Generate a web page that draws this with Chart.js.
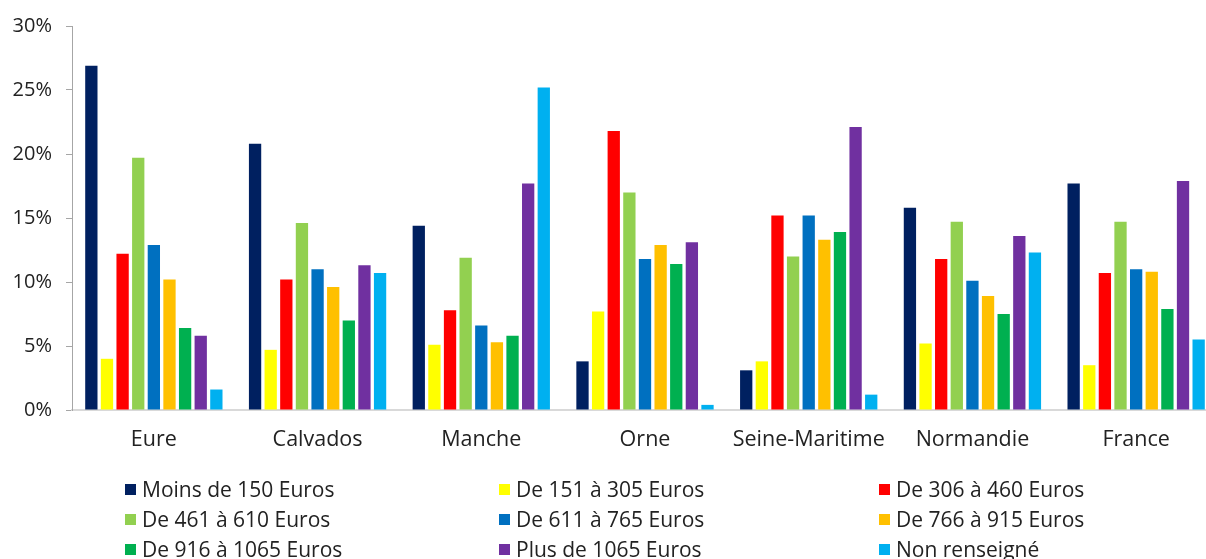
<!DOCTYPE html>
<html lang="fr">
<head>
<meta charset="utf-8">
<title>Répartition par tranche</title>
<script src="https://cdn.jsdelivr.net/npm/chart.js@4/dist/chart.umd.min.js"></script>
<style>
	html, body {
		margin: 0;
		padding: 0;
		background: #fff;
		overflow: hidden;
	}
	#wrap {
		position: relative;
		width: 1206px;
		height: 559px;
		overflow: hidden;
	}
	#chart-box {
		position: absolute;
		left: 0;
		top: 0;
		width: 1218px;
		height: 559px;
	}
	#legend {
		position: absolute;
		left: 0;
		top: 0;
		width: 1206px;
		height: 559px;
		font-family: "Open Sans", sans-serif;
		font-size: 21px;
		color: #222;
	}
	.lg-item {
		position: absolute;
		height: 30px;
		line-height: 30px;
		white-space: nowrap;
	}
	.lg-box {
		display: inline-block;
		width: 11px;
		height: 11px;
		margin-right: 6px;
		vertical-align: middle;
		position: relative;
		top: -2px;
	}
</style>
</head>
<body>
<div id="wrap">
	<div id="chart-box"><canvas id="chart" width="1218" height="559"></canvas></div>
	<div id="legend"></div>
</div>
<script>
	// Territoires
	const categories = ['Eure', 'Calvados', 'Manche', 'Orne', 'Seine-Maritime', 'Normandie', 'France'];

	// Tranches (ordre de la légende)
	const seriesNames = [
		'Moins de 150 Euros',
		'De 151 à 305 Euros',
		'De 306 à 460 Euros',
		'De 461 à 610 Euros',
		'De 611 à 765 Euros',
		'De 766 à 915 Euros',
		'De 916 à 1065 Euros',
		'Plus de 1065 Euros',
		'Non renseigné'
	];

	const seriesColors = ['#002060', '#FFFF00', '#FF0000', '#92D050', '#0070C0', '#FFC000', '#00B050', '#7030A0', '#00B0F0'];

	// Valeurs en %
	const moins150 = [26.9, 20.8, 14.4, 3.8, 3.1, 15.8, 17.7];
	const de151a305 = [4.0, 4.7, 5.1, 7.7, 3.8, 5.2, 3.5];
	const de306a460 = [12.2, 10.2, 7.8, 21.8, 15.2, 11.8, 10.7];
	const de461a610 = [19.7, 14.6, 11.9, 17.0, 12.0, 14.7, 14.7];
	const de611a765 = [12.9, 11.0, 6.6, 11.8, 15.2, 10.1, 11.0];
	const de766a915 = [10.2, 9.6, 5.3, 12.9, 13.3, 8.9, 10.8];
	const de916a1065 = [6.4, 7.0, 5.8, 11.4, 13.9, 7.5, 7.9];
	const plus1065 = [5.8, 11.3, 17.7, 13.1, 22.1, 13.6, 17.9];
	const nonRenseigne = [1.6, 10.7, 25.2, 0.4, 1.2, 12.3, 5.5];

	const seriesValues = [moins150, de151a305, de306a460, de461a610, de611a765, de766a915, de916a1065, plus1065, nonRenseigne];

	// Graduations de l'axe Y
	const yTicks = [0, 5, 10, 15, 20, 25, 30];

	const yFont = { family: '"Open Sans", sans-serif', size: 20 };
	const xFont = { family: '"Open Sans", sans-serif', size: 21.5 };
	const textColor = '#222';

	const datasets = seriesNames.map((name, i) => ({
		label: name,
		data: seriesValues[i],
		backgroundColor: seriesColors[i],
		borderWidth: 0,
		categoryPercentage: 0.859,
		barPercentage: 0.787
	}));

	const chart = new Chart(document.getElementById('chart').getContext('2d'), {
		type: 'bar',
		data: { labels: categories, datasets },
		options: {
			responsive: false,
			animation: false,
			layout: {
				padding: { top: 26, right: 0, bottom: 109, left: 0 }
			},
			plugins: {
				legend: { display: false },
				title: { display: false },
				tooltip: { enabled: false }
			},
			scales: {
				x: {
					grid: { display: false, drawTicks: false },
					border: { display: true, color: '#d9d9d9', width: 2 },
					ticks: {
						color: textColor,
						font: xFont,
						padding: 17,
						maxRotation: 0,
						autoSkip: false
					},
					afterFit(scale) {
						scale.height = 40;
					}
				},
				y: {
					min: 0,
					max: 30,
					afterBuildTicks(scale) {
						scale.ticks = yTicks.map((v) => ({ value: v }));
					},
					grid: {
						display: true,
						drawOnChartArea: false,
						drawTicks: true,
						tickLength: 6,
						color: '#a6a6a6'
					},
					border: { display: true, color: '#a6a6a6', width: 1 },
					ticks: {
						color: textColor,
						font: yFont,
						padding: 14,
						callback: (v) => v + '%'
					},
					afterFit(scale) {
						scale.width = 72;
					}
				}
			}
		}
	});

	// Légende sur trois colonnes
	const legendCols = [125, 499, 879];
	const legendRowTop = 474;
	const legendRowStep = 30;
	const legendEl = document.getElementById('legend');
	chart.data.datasets.forEach((ds, i) => {
		const item = document.createElement('div');
		item.className = 'lg-item';
		item.style.left = legendCols[i % 3] + 'px';
		item.style.top = (legendRowTop + Math.floor(i / 3) * legendRowStep) + 'px';
		const box = document.createElement('span');
		box.className = 'lg-box';
		box.style.background = ds.backgroundColor;
		item.appendChild(box);
		item.appendChild(document.createTextNode(ds.label));
		legendEl.appendChild(item);
	});
</script>
</body>
</html>
